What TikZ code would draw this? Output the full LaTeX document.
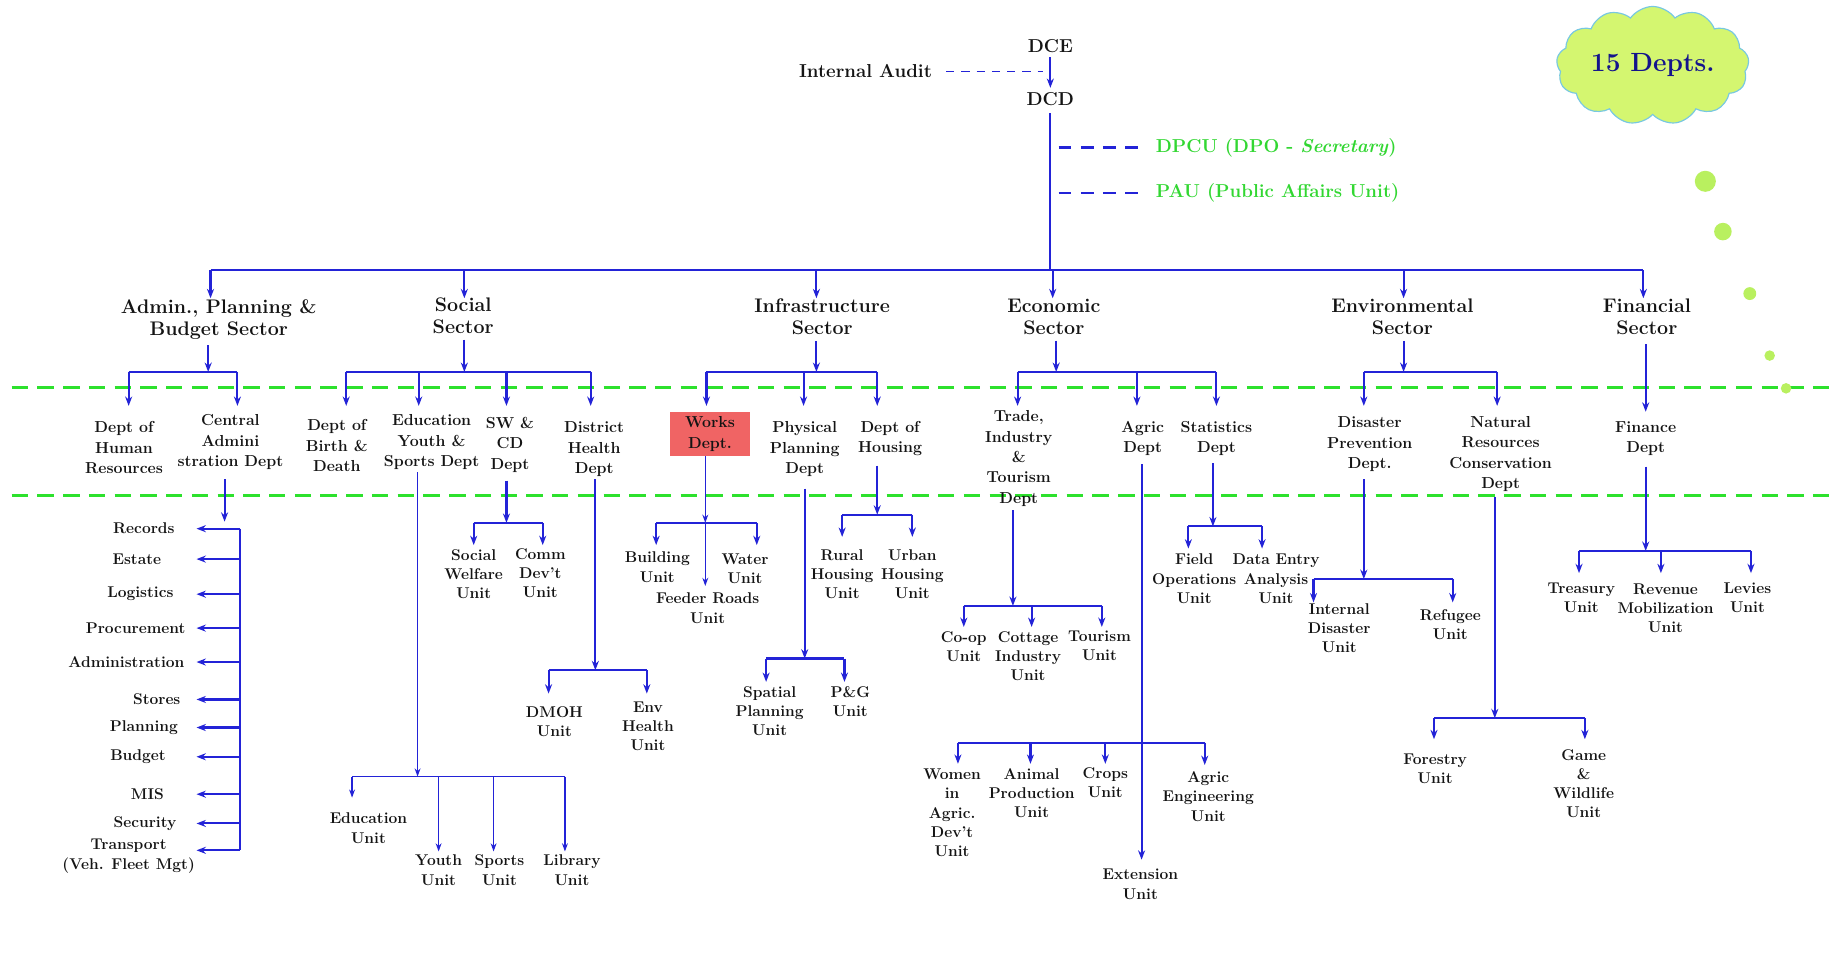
\documentclass[tikz,border=0pt]{standalone}
\usetikzlibrary{arrows.meta,shapes.symbols}
\definecolor{lnblue}{RGB}{35,35,215}
\definecolor{dgreen}{RGB}{45,225,45}
\definecolor{tgreen}{RGB}{50,215,50}
\definecolor{txt}{RGB}{20,20,20}
\definecolor{cloudfill}{RGB}{212,246,112}
\definecolor{clouddraw}{RGB}{120,200,225}
\definecolor{bubble}{RGB}{185,240,95}
\definecolor{navy}{RGB}{20,20,140}
\definecolor{worksred}{RGB}{240,100,100}
\begin{document}
\begin{tikzpicture}[x=1pt,y=-1pt,
  ln/.style={draw=lnblue,line width=1.8pt},
  arr/.style={ln,-{Stealth[length=8pt,width=6pt]}},
  tln/.style={draw=lnblue,line width=1.2pt},
  tarr/.style={tln,-{Stealth[length=7pt,width=5pt]}},
  gdash/.style={draw=dgreen,line width=2.5pt,dash pattern=on 14pt off 8pt},
  bdash/.style={draw=lnblue,line width=2.2pt,dash pattern=on 11pt off 8pt},
  adash/.style={draw=lnblue,line width=1.3pt,dash pattern=on 7pt off 6pt},
  topt/.style={font=\fontsize{16}{19}\selectfont\bfseries,text=txt,inner sep=0pt},
  grn/.style={font=\fontsize{16}{18}\selectfont\bfseries,text=tgreen,inner sep=0pt},
  sector/.style={align=center,font=\fontsize{16.8}{18.5}\selectfont\bfseries,text=txt,inner sep=0pt},
  dept/.style={align=center,font=\fontsize{13.6}{17.5}\selectfont\bfseries,text=txt,inner sep=0pt},
  unit/.style={align=center,font=\fontsize{13.3}{16.5}\selectfont\bfseries,text=txt,inner sep=0pt},
  bub/.style={fill=bubble}
]
\fill[white] (0,0) rectangle (1568,827);
\useasboundingbox (0,0) rectangle (1568,827);

% green guide lines
\draw[gdash] (10,331) -- (1568,331);
\draw[gdash] (10,424) -- (1568,424);

% cloud and bubbles
\node[cloud,cloud puffs=13,cloud puff arc=110,aspect=1.9,minimum width=150pt,minimum height=84pt,
  fill=cloudfill,draw=clouddraw,line width=1pt,font=\fontsize{22.5}{25}\selectfont\bfseries,text=navy] (cloud) at (1413,56) {15 Depts.};
\fill[bub] (1458,155) circle[radius=9pt];
\fill[bub] (1473,198) circle[radius=7.5pt];
\fill[bub] (1496,251) circle[radius=5.5pt];
\fill[bub] (1513,304) circle[radius=4.5pt];
\fill[bub] (1527,332) circle[radius=4.5pt];

% top
\node[topt] (dce) at (898,39) {DCE};
\node[topt] (dcd) at (898,85) {DCD};
\node[topt] (audit) at (740,61) {Internal Audit};
\node[grn,anchor=west] (dpcu) at (988,126) {DPCU (DPO - \textit{Secretary})};
\node[grn,anchor=west] (pau) at (988,165) {PAU (Public Affairs Unit)};
\draw[arr,shorten <=4pt,shorten >=4pt] (dce) -- (dcd);
\draw[adash,shorten <=12pt,shorten >=6pt] (audit.east) -- (audit.east -| dce);
\draw[bdash,shorten <=7pt,shorten >=12pt] (dpcu.west -| dcd) -- (dpcu.west);
\draw[bdash,shorten <=7pt,shorten >=12pt] (pau.west -| dcd) -- (pau.west);

\coordinate (b0L) at (180,231);
\coordinate (b0R) at (1405,231);
\coordinate (b0s) at (397,231);
\coordinate (b0i) at (698,231);
\coordinate (b0e) at (900,231);
\coordinate (b0v) at (1200,231);
\coordinate (sTip) at (0,255);
\draw[ln,shorten <=6pt] (dcd.south) -- (dcd.south |- b0L);
\draw[ln] (b0L) -- (b0R);

% sectors
\node[sector] (sAdm) at (187,273) {Admin.,\ Planning \&\\Budget Sector};
\node[sector] (sSoc) at (396,270) {Social\\Sector};
\node[sector] (sInf) at (703,271) {Infrastructure\\Sector};
\node[sector] (sEco) at (901,271) {Economic\\Sector};
\node[sector] (sEnv) at (1199,271) {Environmental\\Sector};
\node[sector] (sFin) at (1408,271) {Financial\\Sector};
\draw[arr] (b0L) -- (b0L |- sTip);
\draw[arr] (b0s) -- (b0s |- sTip);
\draw[arr] (b0i) -- (b0i |- sTip);
\draw[arr] (b0e) -- (b0e |- sTip);
\draw[arr] (b0v) -- (b0v |- sTip);
\draw[arr] (b0R) -- (b0R |- sTip);

\coordinate (r2) at (0,347);

% departments
\node[dept] (dHR) at (106,383) {Dept of\\Human\\Resources};
\node[dept] (dCA) at (197,378) {Central\\Admini\\stration Dept};
\node[dept] (dBD) at (288,381) {Dept of\\Birth \&\\Death};
\node[dept] (dEY) at (369,378) {Education\\Youth \&\\Sports Dept};
\node[dept] (dSW) at (436,380) {SW \&\\CD\\Dept};
\node[dept] (dDH) at (508,384) {District\\Health\\Dept};
\node[dept,fill=worksred,minimum width=68pt,minimum height=38pt] (dWk) at (607,371) {Works\\Dept.};
\node[dept] (dPP) at (688,384) {Physical\\Planning\\Dept};
\node[dept] (dHo) at (761,375) {Dept of\\Housing};
\node[dept] (dTr) at (871,392) {Trade,\\Industry\\\&\\Tourism\\Dept};
\node[dept] (dAg) at (977,375) {Agric\\Dept};
\node[dept] (dSt) at (1040,375) {Statistics\\Dept};
\node[dept] (dDP) at (1171,380) {Disaster\\Prevention\\Dept.};
\node[dept] (dNR) at (1283,388) {Natural\\Resources\\Conservation\\Dept};
\node[dept] (dFi) at (1407,375) {Finance\\Dept};

% sector -> department buses
\coordinate (aM) at (178,318); \coordinate (aL) at (110,318); \coordinate (aR) at (203,318);
\draw[arr,shorten <=5pt] (aM |- sAdm.south) -- (aM);
\draw[ln] (aL) -- (aR);
\draw[arr] (aL) -- (aL |- r2); \draw[arr] (aR) -- (aR |- r2);

\coordinate (sM) at (397,318); \coordinate (sL) at (296,318); \coordinate (sA) at (358,318);
\coordinate (sB) at (433,318); \coordinate (sR) at (505,318);
\draw[arr,shorten <=5pt] (sM |- sSoc.south) -- (sM);
\draw[ln] (sL) -- (sR);
\draw[arr] (sL) -- (sL |- r2); \draw[arr] (sA) -- (sA |- r2);
\draw[arr] (sB) -- (sB |- r2); \draw[arr] (sR) -- (sR |- r2);

\coordinate (iM) at (698,318); \coordinate (iL) at (604,318); \coordinate (iA) at (687,318); \coordinate (iR) at (750,318);
\draw[arr,shorten <=5pt] (iM |- sInf.south) -- (iM);
\draw[ln] (iL) -- (iR);
\draw[arr] (iL) -- (iL |- r2); \draw[arr] (iA) -- (iA |- r2); \draw[arr] (iR) -- (iR |- r2);

\coordinate (eM) at (903,318); \coordinate (eL) at (870,318); \coordinate (eA) at (972,318); \coordinate (eR) at (1040,318);
\draw[arr,shorten <=5pt] (eM |- sEco.south) -- (eM);
\draw[ln] (eL) -- (eR);
\draw[arr] (eL) -- (eL |- r2); \draw[arr] (eA) -- (eA |- r2); \draw[arr] (eR) -- (eR |- r2);

\coordinate (vM) at (1200,318); \coordinate (vL) at (1166,318); \coordinate (vR) at (1280,318);
\draw[arr,shorten <=5pt] (vM |- sEnv.south) -- (vM);
\draw[ln] (vL) -- (vR);
\draw[arr] (vL) -- (vL |- r2); \draw[arr] (vR) -- (vR |- r2);

\coordinate (fX) at (1407,352);
\draw[arr,shorten <=8pt] (fX |- sFin.south) -- (fX);

% Central administration units
\coordinate (caA) at (192,446);
\draw[arr,shorten <=8pt] (caA |- dCA.south) -- (caA);
\coordinate (caV) at (205,0); \coordinate (caT) at (168,0);
\node[unit] (iRec) at (123,452) {Records};
\node[unit] (iEst) at (117,478) {Estate};
\node[unit] (iLog) at (120,508) {Logistics};
\node[unit] (iPro) at (116,537) {Procurement};
\node[unit] (iAdm) at (108,566) {Administration};
\node[unit] (iSto) at (134,598) {Stores};
\node[unit] (iPla) at (123,622) {Planning};
\node[unit] (iBud) at (118,647) {Budget};
\node[unit] (iMIS) at (126,679) {MIS};
\node[unit] (iSec) at (124,704) {Security};
\node[unit] (iTra) at (110,732) {Transport\\(Veh. Fleet Mgt)};
\coordinate (trA) at (205,727);
\draw[ln] (iRec -| caV) -- (trA);
\draw[arr] (iRec -| caV) -- (iRec -| caT);
\draw[arr] (iEst -| caV) -- (iEst -| caT);
\draw[arr] (iLog -| caV) -- (iLog -| caT);
\draw[arr] (iPro -| caV) -- (iPro -| caT);
\draw[arr] (iAdm -| caV) -- (iAdm -| caT);
\draw[arr] (iSto -| caV) -- (iSto -| caT);
\draw[arr] (iPla -| caV) -- (iPla -| caT);
\draw[arr] (iBud -| caV) -- (iBud -| caT);
\draw[arr] (iMIS -| caV) -- (iMIS -| caT);
\draw[arr] (iSec -| caV) -- (iSec -| caT);
\draw[arr] (trA) -- (trA -| caT);

% Education Youth & Sports
\coordinate (eyJ) at (357,664); \coordinate (eyL) at (301,664); \coordinate (eyY) at (375,664);
\coordinate (eyS) at (422,664); \coordinate (eyR) at (483,664);
\draw[tarr,shorten <=2pt] (eyJ |- dEY.south) -- (eyJ);
\draw[tln] (eyL) -- (eyR);
\draw[tarr] (eyL) -- ++(0,18);
\draw[tarr] (eyY) -- ++(0,64);
\draw[tarr] (eyS) -- ++(0,64);
\draw[tarr] (eyR) -- ++(0,64);
\node[unit] (uEd) at (315,708) {Education\\Unit};
\node[unit] (uYo) at (375,744) {Youth\\Unit};
\node[unit] (uSp) at (427,744) {Sports\\Unit};
\node[unit] (uLi) at (489,744) {Library\\Unit};

% SW & CD
\coordinate (swJ) at (433,447); \coordinate (swL) at (405,447); \coordinate (swR) at (464,447);
\draw[arr,shorten <=7pt] (swJ |- dSW.south) -- (swJ);
\draw[ln] (swL) -- (swR);
\draw[arr] (swL) -- ++(0,19); \draw[arr] (swR) -- ++(0,19);
\node[unit] (uSW) at (405,491) {Social\\Welfare\\Unit};
\node[unit] (uCD) at (462,490) {Comm\\Dev't\\Unit};

% District Health
\coordinate (dhJ) at (509,573); \coordinate (dhL) at (469,573); \coordinate (dhR) at (553,573);
\draw[arr,shorten <=2pt] (dhJ |- dDH.south) -- (dhJ);
\draw[ln] (dhL) -- (dhR);
\draw[arr] (dhL) -- ++(0,20); \draw[arr] (dhR) -- ++(0,20);
\node[unit] (uDM) at (474,617) {DMOH\\Unit};
\node[unit] (uEH) at (554,621) {Env\\Health\\Unit};

% Works
\coordinate (wkJ) at (603,447); \coordinate (wkL) at (561,447); \coordinate (wkR) at (647,447);
\coordinate (wkF) at (603,501);
\draw[tarr] (wkJ |- dWk.south) -- (wkJ);
\draw[tarr] (wkJ) -- (wkF);
\draw[ln] (wkL) -- (wkR);
\draw[arr] (wkL) -- ++(0,19); \draw[arr] (wkR) -- ++(0,19);
\node[unit] (uBu) at (562,485) {Building\\Unit};
\node[unit] (uWa) at (637,486) {Water\\Unit};
\node[unit] (uFR) at (605,520) {Feeder Roads\\Unit};

% Physical Planning
\coordinate (ppJ) at (688,563); \coordinate (ppL) at (655,563); \coordinate (ppR) at (722,563);
\draw[arr,shorten <=10pt] (ppJ |- dPP.south) -- (ppJ);
\draw[ln] (ppL) -- (ppR);
\draw[arr] (ppL) -- ++(0,20); \draw[arr] (ppR) -- ++(0,20);
\node[unit] (uSPl) at (658,608) {Spatial\\Planning\\Unit};
\node[unit] (uPG) at (727,600) {P\&G\\Unit};

% Housing
\coordinate (hoJ) at (750,440); \coordinate (hoL) at (720,440); \coordinate (hoR) at (780,440);
\draw[arr,shorten <=8pt] (hoJ |- dHo.south) -- (hoJ);
\draw[ln] (hoL) -- (hoR);
\draw[arr] (hoL) -- ++(0,19); \draw[arr] (hoR) -- ++(0,19);
\node[unit] (uRH) at (720,491) {Rural\\Housing\\Unit};
\node[unit] (uUH) at (780,491) {Urban\\Housing\\Unit};

% Trade, Industry & Tourism
\coordinate (trJ) at (866,518); \coordinate (trL) at (824,518); \coordinate (trC) at (882,518); \coordinate (trR) at (942,518);
\draw[arr,shorten <=3pt] (trJ |- dTr.south) -- (trJ);
\draw[ln] (trL) -- (trR);
\draw[arr] (trL) -- ++(0,18); \draw[arr] (trC) -- ++(0,18); \draw[arr] (trR) -- ++(0,18);
\node[unit] (uCo) at (824,553) {Co-op\\Unit};
\node[unit] (uCI) at (879,561) {Cottage\\Industry\\Unit};
\node[unit] (uTo) at (940,552) {Tourism\\Unit};

% Agric
\coordinate (agE) at (976,735); \coordinate (agL) at (819,635); \coordinate (agA) at (881,635);
\coordinate (agC) at (945,635); \coordinate (agR) at (1030,635);
\draw[arr,shorten <=7pt] (agE |- dAg.south) -- (agE);
\draw[ln] (agL) -- (agR);
\draw[arr] (agL) -- ++(0,18); \draw[arr] (agA) -- ++(0,18);
\draw[arr] (agC) -- ++(0,18); \draw[arr] (agR) -- ++(0,19);
\node[unit] (uWo) at (814,695) {Women\\in\\Agric.\\Dev't\\Unit};
\node[unit] (uAP) at (882,678) {Animal\\Production\\Unit};
\node[unit] (uCr) at (945,669) {Crops\\Unit};
\node[unit] (uAE) at (1033,681) {Agric\\Engineering\\Unit};
\node[unit] (uEx) at (975,756) {Extension\\Unit};

% Statistics
\coordinate (stJ) at (1037,450); \coordinate (stL) at (1016,450); \coordinate (stR) at (1079,450);
\draw[arr,shorten <=6pt] (stJ |- dSt.south) -- (stJ);
\draw[ln] (stL) -- (stR);
\draw[arr] (stL) -- ++(0,19); \draw[arr] (stR) -- ++(0,19);
\node[unit] (uFO) at (1021,495) {Field\\Operations\\Unit};
\node[unit] (uDE) at (1091,495) {Data Entry\\Analysis\\Unit};

% Disaster Prevention
\coordinate (dpJ) at (1166,495); \coordinate (dpL) at (1123,495); \coordinate (dpR) at (1242,495);
\draw[arr,shorten <=6pt] (dpJ |- dDP.south) -- (dpJ);
\draw[ln] (dpL) -- (dpR);
\draw[arr] (dpL) -- ++(0,20); \draw[arr] (dpR) -- ++(0,20);
\node[unit] (uID) at (1145,537) {Internal\\Disaster\\Unit};
\node[unit] (uRe) at (1240,534) {Refugee\\Unit};

% Natural Resources
\coordinate (nrJ) at (1278,614); \coordinate (nrL) at (1226,614); \coordinate (nrR) at (1355,614);
\draw[arr,shorten <=4pt] (nrJ |- dNR.south) -- (nrJ);
\draw[ln] (nrL) -- (nrR);
\draw[arr] (nrL) -- ++(0,18); \draw[arr] (nrR) -- ++(0,18);
\node[unit] (uFo) at (1227,657) {Forestry\\Unit};
\node[unit] (uGW) at (1354,670) {Game\\\&\\Wildlife\\Unit};

% Finance
\coordinate (fiJ) at (1407,471); \coordinate (fiL) at (1350,471); \coordinate (fiM) at (1420,471); \coordinate (fiR) at (1497,471);
\draw[arr,shorten <=9pt] (fiJ |- dFi.south) -- (fiJ);
\draw[ln] (fiL) -- (fiR);
\draw[arr] (fiL) -- ++(0,19); \draw[arr] (fiM) -- ++(0,19); \draw[arr] (fiR) -- ++(0,19);
\node[unit] (uTr) at (1352,511) {Treasury\\Unit};
\node[unit] (uRM) at (1424,520) {Revenue\\Mobilization\\Unit};
\node[unit] (uLe) at (1494,511) {Levies\\Unit};
\end{tikzpicture}
\end{document}
